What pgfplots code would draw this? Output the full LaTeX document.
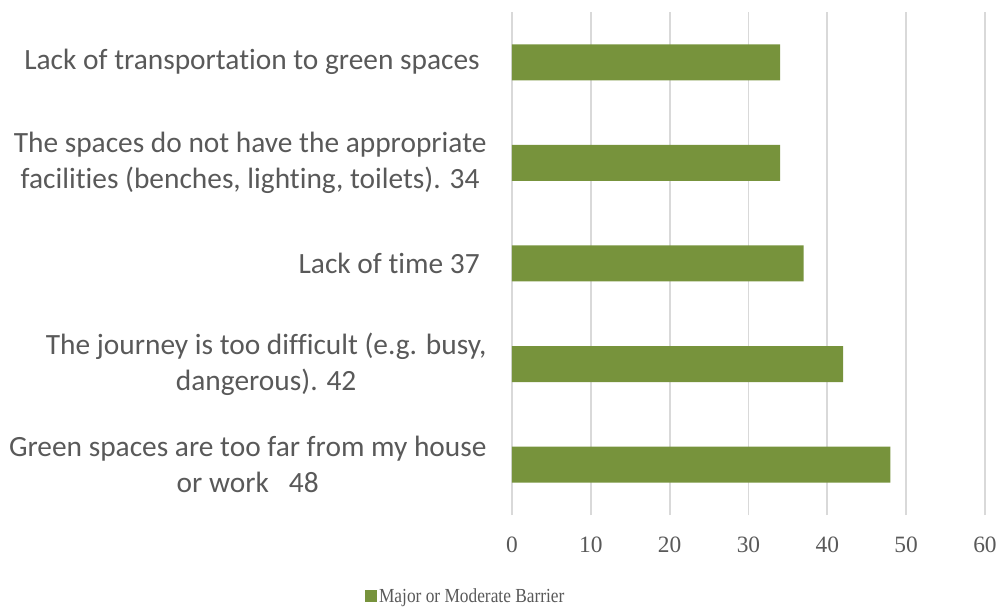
\documentclass[border=0pt]{standalone}
\usepackage{fontspec}
\setmainfont{Carlito}[Ligatures=NoCommon]
\newfontfamily\tickfont{Liberation Serif}
\newfontfamily\legfont[FakeStretch=0.87]{Liberation Serif}
\usepackage{pgfplots}
\pgfplotsset{compat=1.18}
\definecolor{barc}{HTML}{77933C}
\definecolor{txt}{HTML}{595959}
\definecolor{gridc}{HTML}{D9D9D9}
\begin{document}
\begin{tikzpicture}
\useasboundingbox (-512bp,-95bp) rectangle (486bp,515bp);
\begin{axis}[
  at={(0,0)}, anchor=south west,
  scale only axis, width=473bp, height=503bp,
  xbar, bar width=36bp,
  xmin=0, xmax=60, xtick={0,10,20,30,40,50,60},
  ymin=0.5, ymax=5.5, ytick={1,2,3,4,5},
  yticklabels={
    {Green spaces are too far from my house\\or work\hspace*{0.68em}48},
    {The journey is too difficult (e.g. busy,\\dangerous). 42},
    {Lack of time 37\hspace*{0.23em}},
    {The spaces do not have the appropriate\\facilities (benches, lighting, toilets). 34},
    {Lack of transportation to green spaces\hspace*{0.23em}}
  },
  axis line style={draw=none},
  major tick length=0,
  xmajorgrids, ymajorgrids=false,
  grid style={gridc, line width=1.8bp},
  /pgf/number format/assume math mode=true,
  xticklabel style={font=\tickfont\fontsize{23.5}{27}\selectfont, text=txt, yshift=-18bp},
  yticklabel style={font=\fontsize{29.5}{36}\selectfont, text=txt, align=center, xshift=-22bp},
  legend style={at={(-0.311,-0.162)}, anchor=west, draw=none, fill=none,
    font=\legfont\fontsize{20}{24}\selectfont, text=txt, inner sep=0pt},
  legend image code/.code={\fill[barc] (0bp,-6bp) rectangle (12bp,6bp);},
]
\addplot[fill=barc, draw=none] coordinates {(48,1) (42,2) (37,3) (34,4) (34,5)};
\legend{Major or Moderate Barrier}
\end{axis}
\end{tikzpicture}
\end{document}
